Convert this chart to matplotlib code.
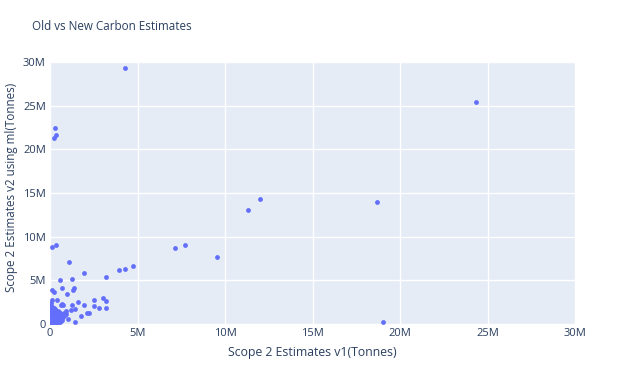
import matplotlib
matplotlib.use("Agg")
import matplotlib.pyplot as plt
from matplotlib.ticker import FuncFormatter

plt.rcParams['font.family'] = ['Open Sans', 'DejaVu Sans']

# scope 2 estimates, millions of tonnes (v1 on x, v2 on y)
outer_x = [4.29, 24.34, 0.30, 0.36, 0.22, 12.0, 11.3, 18.7, 9.56, 7.12, 7.73,
           19.03, 0.11, 0.34, 4.76, 4.29, 3.92, 1.10, 1.96, 3.20]
outer_y = [29.3, 25.4, 22.45, 21.6, 21.3, 14.35, 13.06, 13.97, 7.67, 8.74, 9.09,
           0.27, 8.85, 9.10, 6.68, 6.34, 6.15, 7.07, 5.80, 5.38]

mid_x = [0.55, 1.24, 0.10, 0.23, 0.67, 1.35, 1.30, 0.95, 0.10, 0.38, 0.67, 0.60,
         0.72, 1.24, 1.58, 1.96, 2.51, 2.51, 2.78, 3.05, 3.20, 3.18, 1.43, 1.20,
         0.93, 2.10, 2.25, 1.79, 1.01, 1.41, 0.11, 0.20, 0.30]
mid_y = [5.00, 5.19, 3.90, 3.70, 4.08, 4.08, 3.85, 3.40, 2.80, 2.75, 2.29, 2.20,
         2.15, 2.18, 2.56, 2.14, 2.79, 2.03, 1.87, 2.98, 2.67, 1.80, 1.68, 1.57,
         1.49, 1.30, 1.30, 0.92, 0.61, 0.27, 1.98, 1.80, 1.70]

cluster_x = [0.02, 0.05, 0.08, 0.12, 0.15, 0.18, 0.22, 0.25, 0.28, 0.32, 0.35,
             0.40, 0.44, 0.48, 0.52, 0.56, 0.60, 0.65, 0.70, 0.75, 0.03, 0.07,
             0.11, 0.16, 0.20, 0.26, 0.30, 0.36, 0.42, 0.47, 0.53, 0.58, 0.63,
             0.68, 0.04, 0.09, 0.14, 0.19, 0.24, 0.29, 0.34, 0.39, 0.45, 0.50,
             0.55, 0.61, 0.02, 0.06, 0.10, 0.15, 0.21, 0.27, 0.05, 0.12, 0.18,
             0.08, 0.85, 0.80, 0.90, 0.45]
cluster_y = [0.05, 0.20, 0.10, 0.35, 0.15, 0.50, 0.25, 0.40, 0.08, 0.30, 0.60,
             0.12, 0.45, 0.22, 0.55, 0.18, 0.70, 0.35, 0.50, 0.80, 0.75, 0.90,
             0.65, 0.85, 1.00, 0.72, 0.95, 0.85, 0.68, 1.05, 0.90, 1.00, 0.78,
             1.10, 1.15, 1.30, 1.20, 1.40, 1.25, 1.10, 1.30, 1.18, 1.25, 1.35,
             1.22, 1.15, 1.55, 1.70, 1.50, 1.62, 1.45, 1.55, 2.05, 1.90, 1.75,
             2.40, 1.05, 1.30, 1.20, 1.50]

xs = outer_x + mid_x + cluster_x
ys = outer_y + mid_y + cluster_y

ticks = [0, 5, 10, 15, 20, 25, 30]
txt = "#2a3f5f"

fig = plt.figure(figsize=(6.24, 3.74), dpi=100)
ax = fig.add_axes([50 / 624, 50 / 374, 525 / 624, 262 / 374])
ax.set_facecolor("#E5ECF6")
ax.scatter(xs, ys, s=12, color="#636efa", linewidths=0, zorder=3)

ax.set_xlim(0, 30)
ax.set_ylim(0, 30)
ax.set_xticks(ticks)
ax.set_yticks(ticks)
fmt = FuncFormatter(lambda v, p: "0" if v == 0 else f"{int(v)}M")
ax.xaxis.set_major_formatter(fmt)
ax.yaxis.set_major_formatter(fmt)
ax.grid(color="white", linewidth=1, zorder=0)
ax.set_axisbelow(True)
for s in ax.spines.values():
    s.set_visible(False)
ax.tick_params(length=0, labelsize=8, labelcolor=txt, pad=3)

ax.set_xlabel("Scope 2 Estimates v1(Tonnes)", fontsize=8.8, color=txt, labelpad=5)
# y title placed by hand, like plotly's
fig.text(12 / 624, 1 - 187 / 374, "Scope 2 Estimates v2 using ml(Tonnes)",
         fontsize=8.4, color=txt, rotation=90, ha="center", va="center")
fig.text(32 / 624, 1 - 27 / 374, "Old vs New Carbon Estimates", fontsize=8.4,
         color=txt, va="center", ha="left")

fig.savefig("out.png", dpi=100)
